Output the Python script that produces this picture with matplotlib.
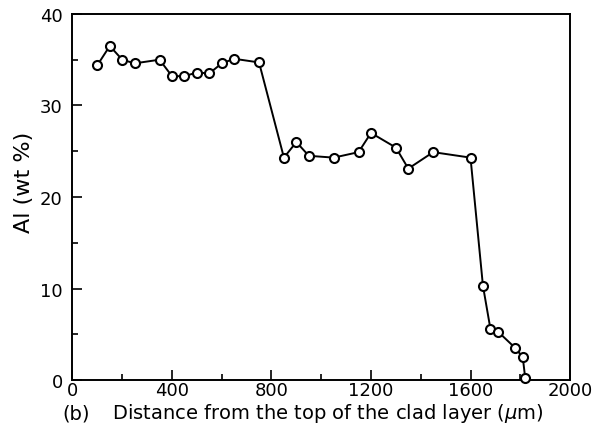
import matplotlib
matplotlib.use('Agg')
import matplotlib.pyplot as plt
from matplotlib.ticker import MultipleLocator

plt.rcParams['font.family'] = ['DejaVu Sans']
plt.rcParams['mathtext.fontset'] = 'dejavusans'

# distance from top of clad layer (um) and Al content (wt %)
distance = [100, 150, 200, 250, 350, 400, 450, 500, 550, 600, 650, 750,
            850, 900, 950, 1050, 1150, 1200, 1300, 1350, 1450, 1600,
            1650, 1680, 1710, 1780, 1810, 1820]
al_wt = [34.4, 36.5, 35.0, 34.6, 35.0, 33.2, 33.2, 33.6, 33.5, 34.6, 35.1, 34.7,
         24.3, 26.0, 24.5, 24.3, 24.9, 27.0, 25.4, 23.1, 24.9, 24.3,
         10.3, 5.6, 5.3, 3.5, 2.5, 0.2]

fig = plt.figure(figsize=(5.95, 4.39), dpi=100)
ax = fig.add_axes([0.1218, 0.132, 0.8362, 0.834])

ax.plot(distance, al_wt, color='black', lw=1.4, marker='o', ms=6.5,
        mfc='white', mec='black', mew=1.5, clip_on=False, zorder=3)

ax.set_xlim(0, 2000)
ax.set_ylim(0, 40)
ax.xaxis.set_major_locator(MultipleLocator(400))
ax.xaxis.set_minor_locator(MultipleLocator(200))
ax.yaxis.set_major_locator(MultipleLocator(10))
ax.yaxis.set_minor_locator(MultipleLocator(5))
ax.tick_params(which='both', direction='in', top=False, right=False,
               labelsize=13, width=1.2)
ax.tick_params(which='major', length=7)
ax.tick_params(which='minor', length=4)
ax.tick_params(axis='x', pad=1)
ax.tick_params(axis='y', pad=7)
for s in ax.spines.values():
    s.set_linewidth(1.4)

fig.text(24 / 595, 1 - 182 / 439, 'Al (wt %)', fontsize=16, rotation=90,
         va='center', ha='center')
fig.text(62 / 595, 1 - 414 / 439, '(b)', fontsize=14, va='center', ha='left')
fig.text(112 / 595, 1 - 414 / 439, r'Distance from the top of the clad layer ($\mu$m)',
         fontsize=14, va='center', ha='left')

fig.savefig('out.png', dpi=100)
